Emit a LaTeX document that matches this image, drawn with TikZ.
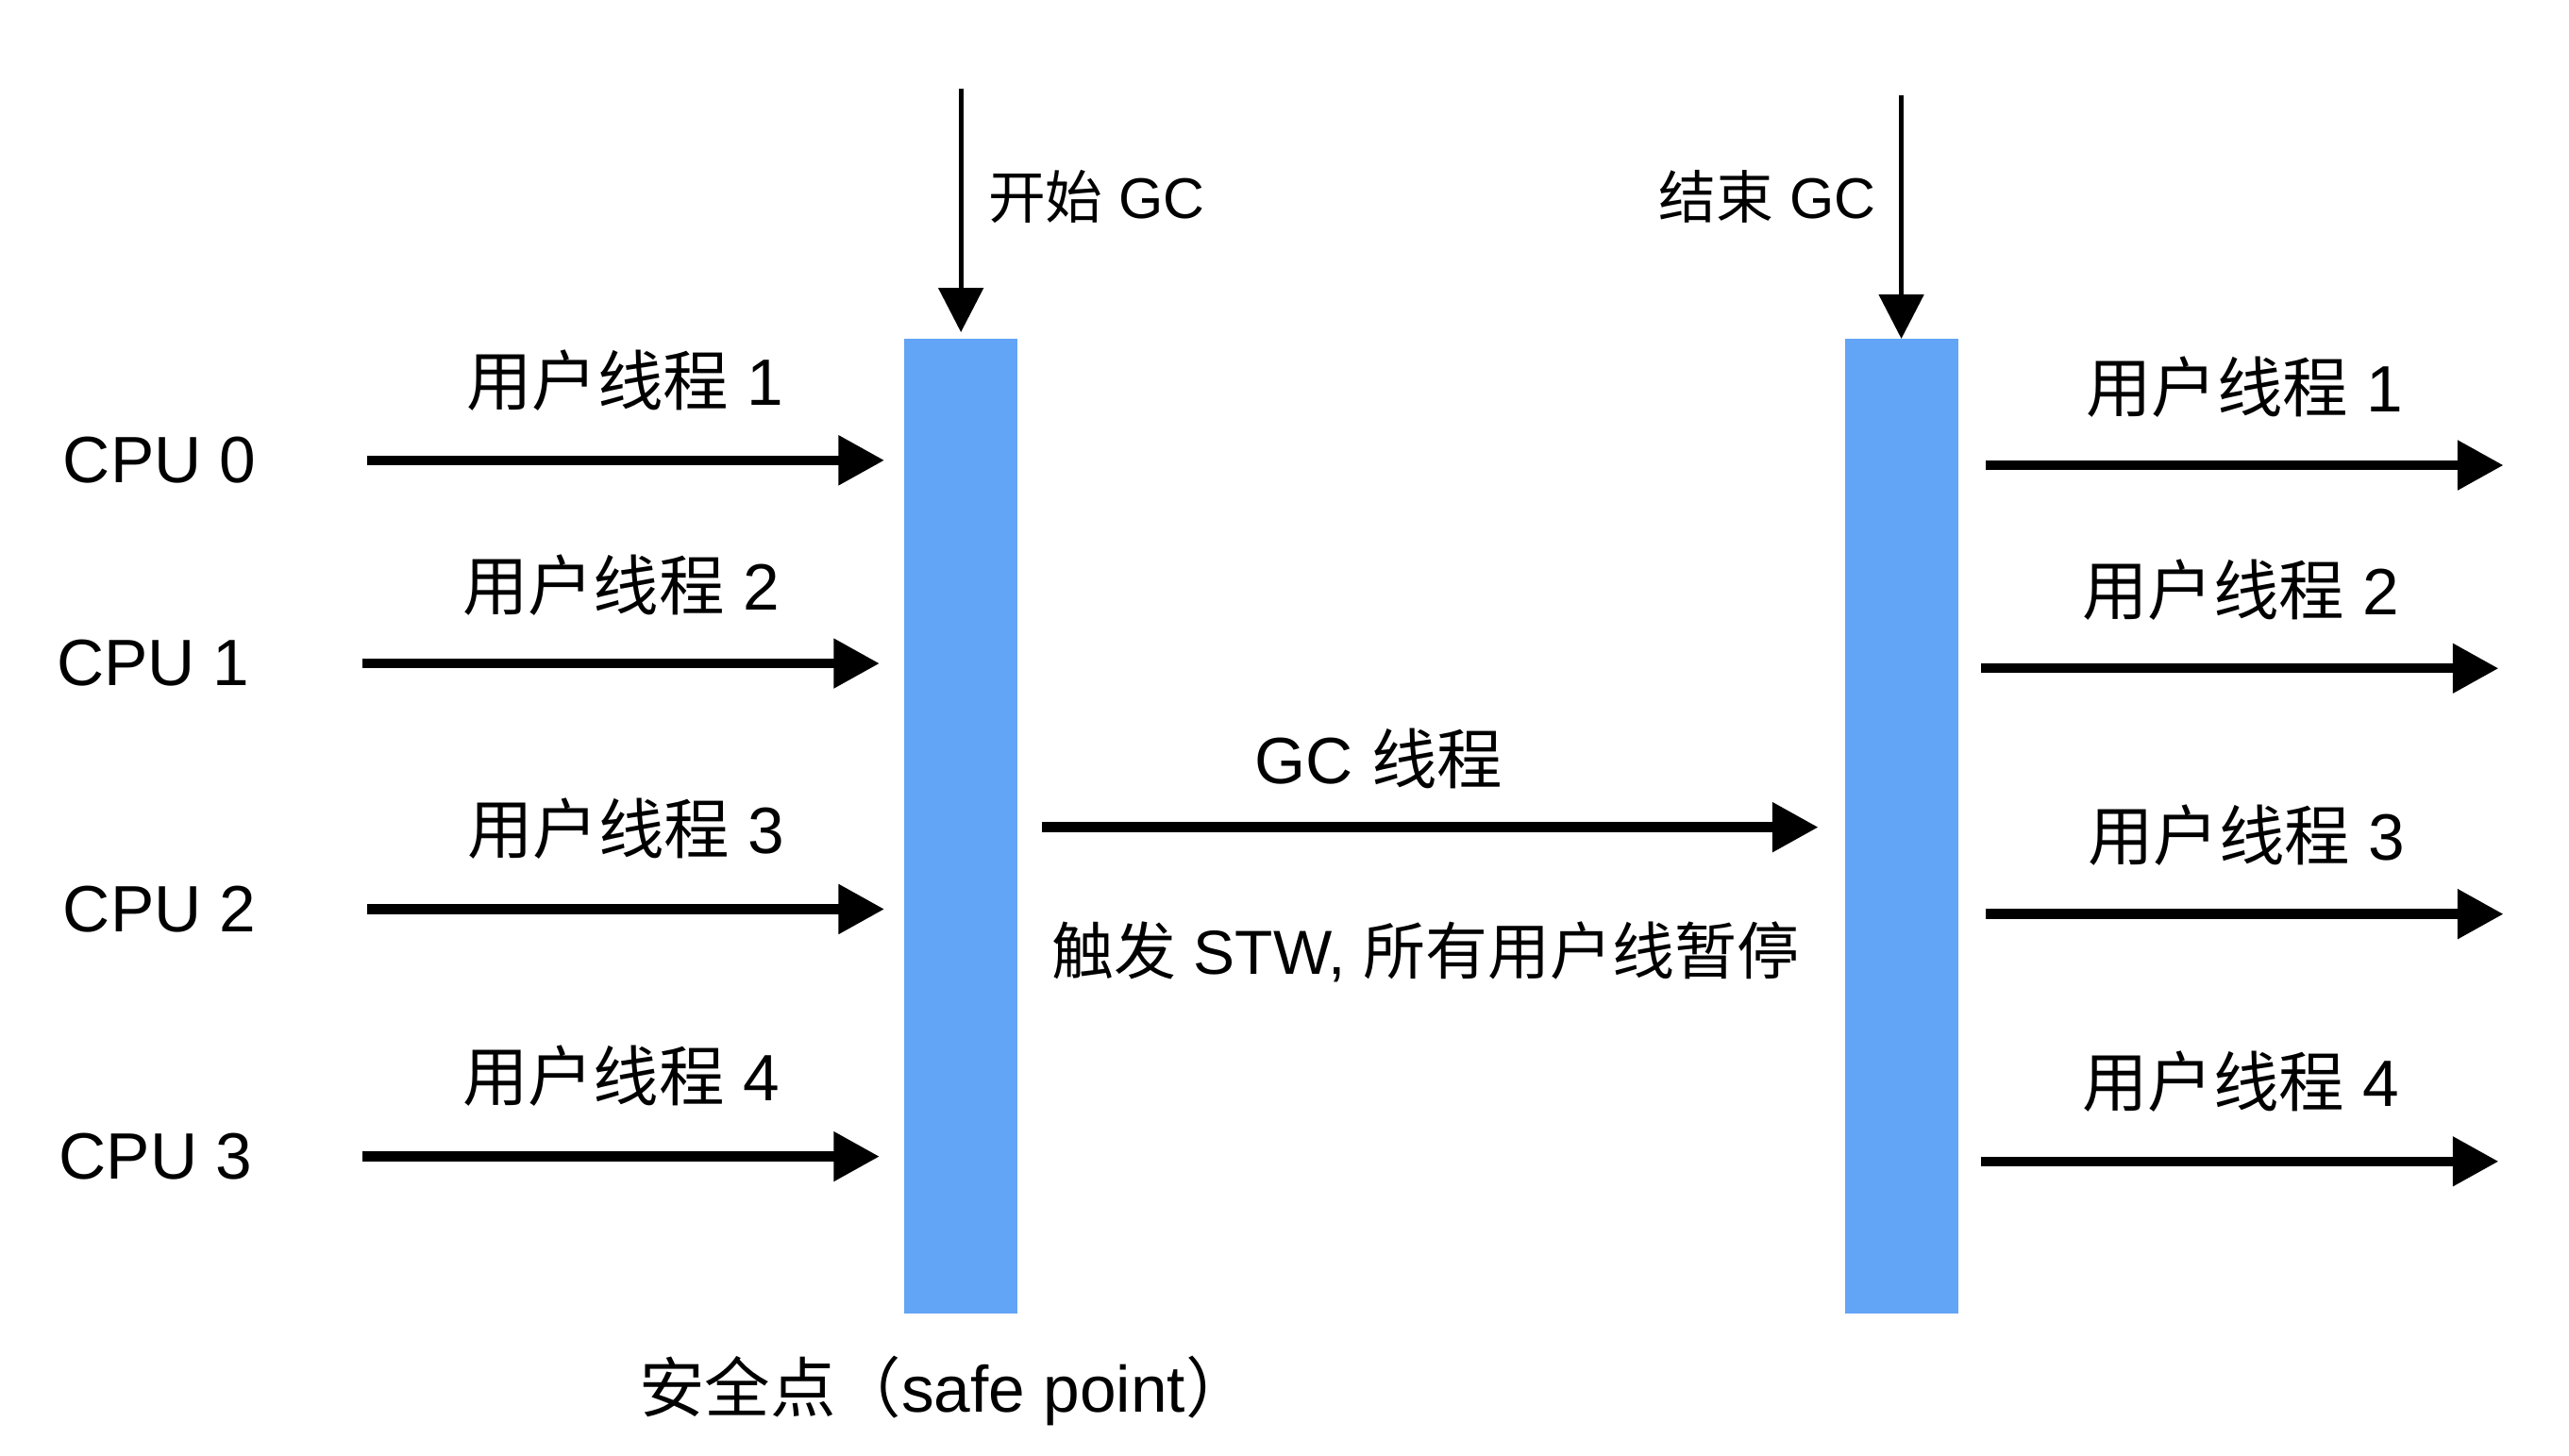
\documentclass[tikz,border=0pt]{standalone}
\usepackage{fontspec}
\setmainfont{Liberation Sans}
\newfontfamily\cjk{Noto Sans CJK SC}
\usetikzlibrary{arrows.meta}
\definecolor{barblue}{RGB}{98,164,246}
\begin{document}
\begin{tikzpicture}[x=1pt,y=-1pt,
  bar/.style={fill=barblue,draw=none,inner sep=0pt,minimum width=69pt,minimum height=595pt},
  thk/.style={line width=6pt,-{Triangle[length=28pt,width=29pt]}},
  thn/.style={line width=3pt,-{Triangle[length=27pt,width=27pt]}},
  lbl/.style={inner sep=0pt,font=\fontsize{40}{48}\selectfont},
  sml/.style={inner sep=0pt,font=\fontsize{35}{42}\selectfont},
  mid/.style={inner sep=0pt,font=\fontsize{38}{46}\selectfont}]
\useasboundingbox (0,0) rectangle (1568,888.3);
% bars
\node[bar] (b1) at (586.5,504.5) {};
\node[bar] (b2) at (1160.5,504.5) {};
% top arrows
\coordinate (gs) at (586.5,54);
\coordinate (ge) at (1160.5,58);
\draw[thn,shorten >=4pt] (gs) -- (b1.north);
\draw[thn] (ge) -- (b2.north);
\node[sml,anchor=west] (lgs) at (603,120) {{\cjk 开始} GC};
\node[sml,anchor=east] (lge) at (1145,120) {{\cjk 结束} GC};
% CPU labels
\node[lbl] (c0) at (97.5,281) {CPU 0};
\node[lbl] (c1) at (93.5,405) {CPU 1};
\node[lbl] (c2) at (97.5,555) {CPU 2};
\node[lbl] (c3) at (95,706) {CPU 3};
% left arrows
\coordinate (l0) at (224,281);
\coordinate (l1) at (221,405);
\coordinate (l2) at (224,555);
\coordinate (l3) at (221,706);
\draw[thk,shorten >=12pt] (l0) -- (l0 -| b1.west);
\draw[thk,shorten >=15pt] (l1) -- (l1 -| b1.west);
\draw[thk,shorten >=12pt] (l2) -- (l2 -| b1.west);
\draw[thk,shorten >=15pt] (l3) -- (l3 -| b1.west);
\node[lbl] (t0) at (381.5,232) {{\cjk 用户线程} 1};
\node[lbl] (t1) at (379,357) {{\cjk 用户线程} 2};
\node[lbl] (t2) at (382,506) {{\cjk 用户线程} 3};
\node[lbl] (t3) at (379,657) {{\cjk 用户线程} 4};
% GC thread
\draw[thk,shorten <=15pt,shorten >=16pt] (b1.east |- 0,505) -- (b2.west |- 0,505);
\node[lbl] (gct) at (841.5,463) {GC {\cjk 线程}};
\node[mid] (stw) at (870,581) {{\cjk 触发} STW, {\cjk 所有用户线暂停}};
% right arrows
\coordinate (r0) at (1528,284);
\coordinate (r1) at (1525,408);
\coordinate (r2) at (1528,558);
\coordinate (r3) at (1525,709);
\draw[thk,shorten <=17pt] (b2.east |- r0) -- (r0);
\draw[thk,shorten <=14pt] (b2.east |- r1) -- (r1);
\draw[thk,shorten <=17pt] (b2.east |- r2) -- (r2);
\draw[thk,shorten <=14pt] (b2.east |- r3) -- (r3);
\node[lbl] (u0) at (1370,236) {{\cjk 用户线程} 1};
\node[lbl] (u1) at (1367.5,360) {{\cjk 用户线程} 2};
\node[lbl] (u2) at (1371,510) {{\cjk 用户线程} 3};
\node[lbl] (u3) at (1367.5,660) {{\cjk 用户线程} 4};
% safe point
\node[lbl,anchor=west] (sp) at (390,849) {{\cjk 安全点（}safe point{\cjk ）}};
\end{tikzpicture}
\end{document}
